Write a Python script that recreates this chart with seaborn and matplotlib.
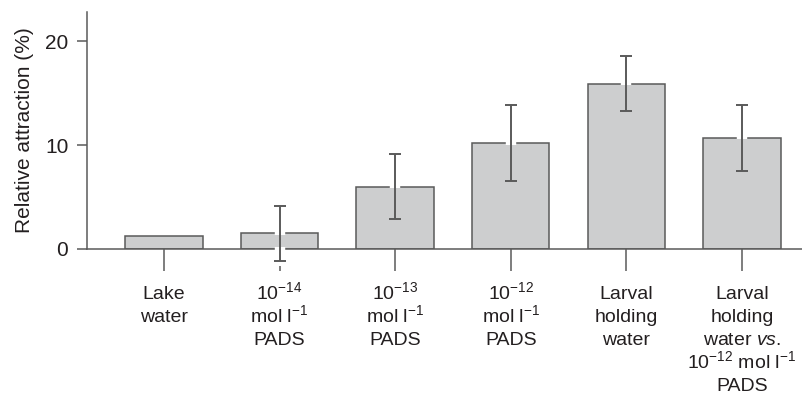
import matplotlib
matplotlib.use("Agg")
import matplotlib.pyplot as plt
import matplotlib.transforms as mtransforms
import seaborn as sns
import pandas as pd

# Treatments, mean relative attraction and error half-widths
categories = [
    "Lake\nwater",
    "$10^{-14}$\nmol l$^{-1}$\nPADS",
    "$10^{-13}$\nmol l$^{-1}$\nPADS",
    "$10^{-12}$\nmol l$^{-1}$\nPADS",
    "Larval\nholding\nwater",
    "Larval\nholding\nwater $\\mathit{vs.}$\n$10^{-12}$ mol l$^{-1}$\nPADS",
]
means = [1.2, 1.5, 6.0, 10.2, 15.9, 10.7]
errors = [0.0, 2.65, 3.15, 3.65, 2.65, 3.15]
yticks = [0, 10, 20]

sns.set_theme(style="white")
plt.rcParams["font.family"] = ["Liberation Sans", "DejaVu Sans"]
plt.rcParams["mathtext.fontset"] = "custom"
plt.rcParams["mathtext.rm"] = "Liberation Sans"
plt.rcParams["mathtext.it"] = "Liberation Sans:italic"
plt.rcParams["mathtext.default"] = "regular"

ink = "#231f20"
line_grey = "#5a5a5a"
bar_fill = "#cdcecf"

df = pd.DataFrame({"condition": categories, "attraction": means})

fig = plt.figure(figsize=(8.02, 3.95), dpi=100)
ax = fig.add_axes([0.1085, 0.370, 0.8915, 0.599])

sns.barplot(data=df, x="condition", y="attraction", ax=ax, color=bar_fill,
            saturation=1, width=0.67, edgecolor=line_grey, linewidth=1.1,
            errorbar=None)

for i, (m, e) in enumerate(zip(means, errors)):
    if e <= 0:
        continue
    # small white knockout where the error bar crosses the bar outline
    ax.vlines(i, m - 0.15, m + 0.15, colors="white", linewidth=7.5,
              zorder=3.5)
    # and where it crosses the baseline and its tick
    if m - e < 0:
        ax.vlines(i, -1.7, 0.15, colors="white", linewidth=7.5,
                  zorder=3.5, clip_on=False)
    lines = ax.errorbar(i, m, yerr=e, fmt="none", ecolor=line_grey,
                        elinewidth=1.4, capsize=4.4, capthick=1.4,
                        zorder=4)
    for art in list(lines.lines[1]) + list(lines.lines[2]):
        art.set_clip_on(False)

ax.set_xlim(-0.666, 5.52)
ax.set_ylim(0, 22.8)
ax.set_yticks(yticks)
ax.set_xlabel("")
ax.set_ylabel("Relative attraction (%)", fontsize=15, color=ink, labelpad=8)

for side in ["top", "right"]:
    ax.spines[side].set_visible(False)
for side in ["left", "bottom"]:
    ax.spines[side].set_color(line_grey)
    ax.spines[side].set_linewidth(1.1)

ax.tick_params(axis="x", direction="out", length=16, width=1.1,
               color=line_grey, labelsize=14)
ax.tick_params(axis="y", direction="out", length=7, width=1.1,
               color=line_grey, pad=6.5, labelsize=15, labelcolor=ink)
ax.tick_params(bottom=True, left=True)

# category labels: one text per line so every line sits on an even pitch
ax.set_xticklabels([""] * len(categories))
first_baseline_px = 50.5
line_pitch_px = 22.8
base = mtransforms.blended_transform_factory(ax.transData, ax.transAxes)
for i, label in enumerate(categories):
    for j, part in enumerate(label.split("\n")):
        drop = (first_baseline_px + j * line_pitch_px) / fig.dpi
        tr = base + mtransforms.ScaledTranslation(0, -drop, fig.dpi_scale_trans)
        ax.text(i, 0, part, transform=tr, ha="center", va="baseline",
                fontsize=14, color=ink, clip_on=False)

fig.savefig("out.png", dpi=100)
